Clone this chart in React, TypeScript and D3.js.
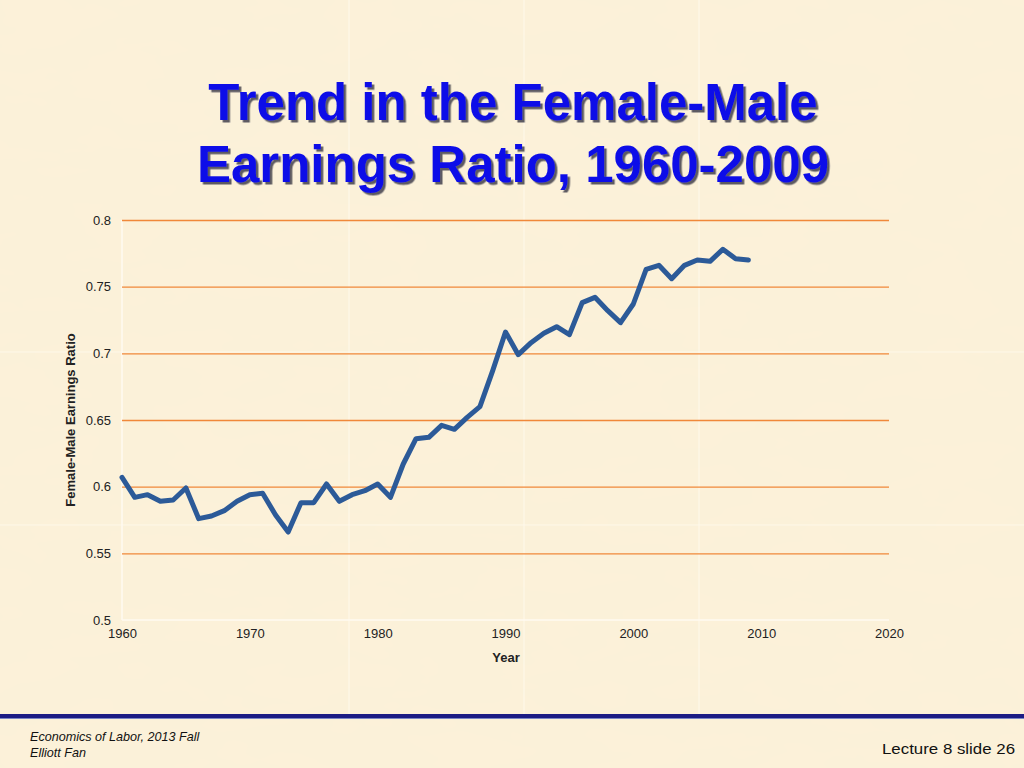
import { useEffect, useRef } from "react";
import * as d3 from "d3";

// female-male earnings ratio, full-time year-round workers
const years: number[] = [
  1960, 1961, 1962, 1963, 1964, 1965, 1966, 1967, 1968, 1969,
  1970, 1971, 1972, 1973, 1974, 1975, 1976, 1977, 1978, 1979,
  1980, 1981, 1982, 1983, 1984, 1985, 1986, 1987, 1988, 1989,
  1990, 1991, 1992, 1993, 1994, 1995, 1996, 1997, 1998, 1999,
  2000, 2001, 2002, 2003, 2004, 2005, 2006, 2007, 2008, 2009,
];
const ratios: number[] = [
  0.607, 0.592, 0.594, 0.589, 0.590, 0.599, 0.576, 0.578, 0.582, 0.589,
  0.594, 0.595, 0.579, 0.566, 0.588, 0.588, 0.602, 0.589, 0.594, 0.597,
  0.602, 0.592, 0.617, 0.636, 0.637, 0.646, 0.643, 0.652, 0.660, 0.687,
  0.716, 0.699, 0.708, 0.715, 0.720, 0.714, 0.738, 0.742, 0.732, 0.723,
  0.737, 0.763, 0.766, 0.756, 0.766, 0.770, 0.769, 0.778, 0.771, 0.770,
];
const yTicks: number[] = [0.5, 0.55, 0.6, 0.65, 0.7, 0.75, 0.8];
const xTicks: number[] = [1960, 1970, 1980, 1990, 2000, 2010, 2020];

const W = 1024;
const H = 768;

const App = () => {
  const svgRef = useRef<SVGSVGElement>(null);

  useEffect(() => {
    if (!svgRef.current) return;
    const svg = d3.select(svgRef.current);
    svg.selectAll("*").remove();

    const margin = { left: 122, right: 1024 - 889, top: 220, bottom: 768 - 620 };
    const x = d3.scaleLinear().domain([1960, 2020]).range([margin.left, W - margin.right]);
    const y = d3.scaleLinear().domain([0.5, 0.8]).range([H - margin.bottom, margin.top]);

    // background paper
    const defs = svg.append("defs");
    const filt = defs.append("filter").attr("id", "paper").attr("x", 0).attr("y", 0)
      .attr("width", "100%").attr("height", "100%");
    filt.append("feTurbulence").attr("type", "fractalNoise")
      .attr("baseFrequency", "0.012 0.03").attr("numOctaves", 3).attr("seed", 4);
    filt.append("feColorMatrix").attr("type", "matrix")
      .attr("values", "0 0 0 0 0.93  0 0 0 0 0.86  0 0 0 0 0.70  0 0 0 0.22 0");
    const shadow = defs.append("filter").attr("id", "tshadow");
    shadow.append("feDropShadow").attr("dx", 2.5).attr("dy", 2.5).attr("stdDeviation", 0.6)
      .attr("flood-color", "#2a2a3a").attr("flood-opacity", 0.75);

    svg.append("rect").attr("width", W).attr("height", H).attr("fill", "#fcf1d9");
    svg.append("rect").attr("width", W).attr("height", H).attr("filter", "url(#paper)");

    // tile seams of the slide texture
    [349, 524, 699].forEach((sx) =>
      svg.append("line").attr("x1", sx).attr("x2", sx).attr("y1", 0).attr("y2", 714)
        .attr("stroke", "#fffaf0").attr("stroke-width", 1).attr("opacity", 0.8));
    [352, 525].forEach((sy) =>
      svg.append("line").attr("x1", 0).attr("x2", W).attr("y1", sy).attr("y2", sy)
        .attr("stroke", "#fffaf0").attr("stroke-width", 1).attr("opacity", 0.7));

    // title
    const title = svg.append("text")
      .attr("text-anchor", "middle")
      .attr("font-family", "Liberation Sans, Arial, sans-serif")
      .attr("font-weight", "bold")
      .attr("font-size", 51)
      .attr("fill", "#1010e8")
      .attr("filter", "url(#tshadow)");
    title.append("tspan").attr("x", 513).attr("y", 120).text("Trend in the Female-Male");
    title.append("tspan").attr("x", 513).attr("y", 182).text("Earnings Ratio, 1960-2009");

    // axis lines (light)
    svg.append("line").attr("x1", x(1960)).attr("x2", x(1960)).attr("y1", y(0.8)).attr("y2", y(0.5))
      .attr("stroke", "#fffaf0").attr("stroke-width", 1.5);
    svg.append("line").attr("x1", x(1960)).attr("x2", x(2020)).attr("y1", y(0.5)).attr("y2", y(0.5))
      .attr("stroke", "#fffaf0").attr("stroke-width", 1.5);

    // gridlines
    svg.append("g")
      .attr("transform", `translate(${x(1960)},0)`)
      .call(
        d3.axisLeft(y)
          .tickValues(yTicks.filter((t) => t > 0.5))
          .tickSize(-(x(2020) - x(1960)))
          .tickFormat(() => "")
      )
      .call((g) => g.select(".domain").remove())
      .call((g) =>
        g.selectAll(".tick line").attr("stroke", "#f0883a").attr("stroke-width", 1.3)
      );

    // y tick labels
    svg.append("g")
      .attr("transform", `translate(${x(1960)},0)`)
      .call(d3.axisLeft(y).tickValues(yTicks).tickSize(0).tickPadding(11).tickFormat((d) => String(d)))
      .call((g) => g.select(".domain").remove())
      .call((g) =>
        g.selectAll("text")
          .attr("font-family", "Liberation Sans, Arial, sans-serif")
          .attr("font-size", 13)
          .attr("fill", "#222")
      );

    // x tick labels
    svg.append("g")
      .attr("transform", `translate(0,${y(0.5)})`)
      .call(d3.axisBottom(x).tickValues(xTicks).tickSize(0).tickPadding(9).tickFormat(d3.format("d")))
      .call((g) => g.select(".domain").remove())
      .call((g) =>
        g.selectAll("text")
          .attr("font-family", "Liberation Sans, Arial, sans-serif")
          .attr("font-size", 13)
          .attr("fill", "#222")
      );

    // axis titles
    svg.append("text")
      .attr("x", 506).attr("y", 662)
      .attr("text-anchor", "middle")
      .attr("font-family", "Liberation Sans, Arial, sans-serif")
      .attr("font-weight", "bold").attr("font-size", 13).attr("fill", "#222")
      .text("Year");
    svg.append("text")
      .attr("transform", `translate(75,${(y(0.5) + y(0.8)) / 2}) rotate(-90)`)
      .attr("text-anchor", "middle")
      .attr("font-family", "Liberation Sans, Arial, sans-serif")
      .attr("font-weight", "bold").attr("font-size", 13).attr("fill", "#222")
      .text("Female-Male Earnings Ratio");

    // data line
    const pts: [number, number][] = years.map((yr, i) => [yr, ratios[i]]);
    const line = d3.line<[number, number]>()
      .x((d) => x(d[0]))
      .y((d) => y(d[1]));
    svg.append("path")
      .datum(pts)
      .attr("d", line)
      .attr("fill", "none")
      .attr("stroke", "#2c5a98")
      .attr("stroke-width", 5)
      .attr("stroke-linejoin", "round")
      .attr("stroke-linecap", "round");

    // footer rule
    svg.append("rect").attr("x", 0).attr("y", 714).attr("width", W).attr("height", 4).attr("fill", "#1c1c84");
    svg.append("line").attr("x1", 0).attr("x2", W).attr("y1", 718.5).attr("y2", 718.5)
      .attr("stroke", "#7a86c4").attr("stroke-width", 1);

    const foot = svg.append("text")
      .attr("font-family", "Liberation Sans, Arial, sans-serif")
      .attr("font-style", "italic").attr("font-size", 12.6).attr("fill", "#111");
    foot.append("tspan").attr("x", 30).attr("y", 741).text("Economics of Labor, 2013 Fall");
    foot.append("tspan").attr("x", 30).attr("y", 757).text("Elliott Fan");

    svg.append("text")
      .attr("x", 1015).attr("y", 754)
      .attr("text-anchor", "end")
      .attr("font-family", "Liberation Sans Narrow, Arial Narrow, sans-serif")
      .attr("font-size", 15.5).attr("fill", "#111")
      .attr("textLength", 133).attr("lengthAdjust", "spacingAndGlyphs")
      .text("Lecture 8 slide 26");
  }, []);

  return (
    <div style={{ position: "absolute", left: 0, top: 0, width: W, height: H }}>
      <svg ref={svgRef} width={W} height={H} style={{ display: "block" }} />
    </div>
  );
};

export default App;
